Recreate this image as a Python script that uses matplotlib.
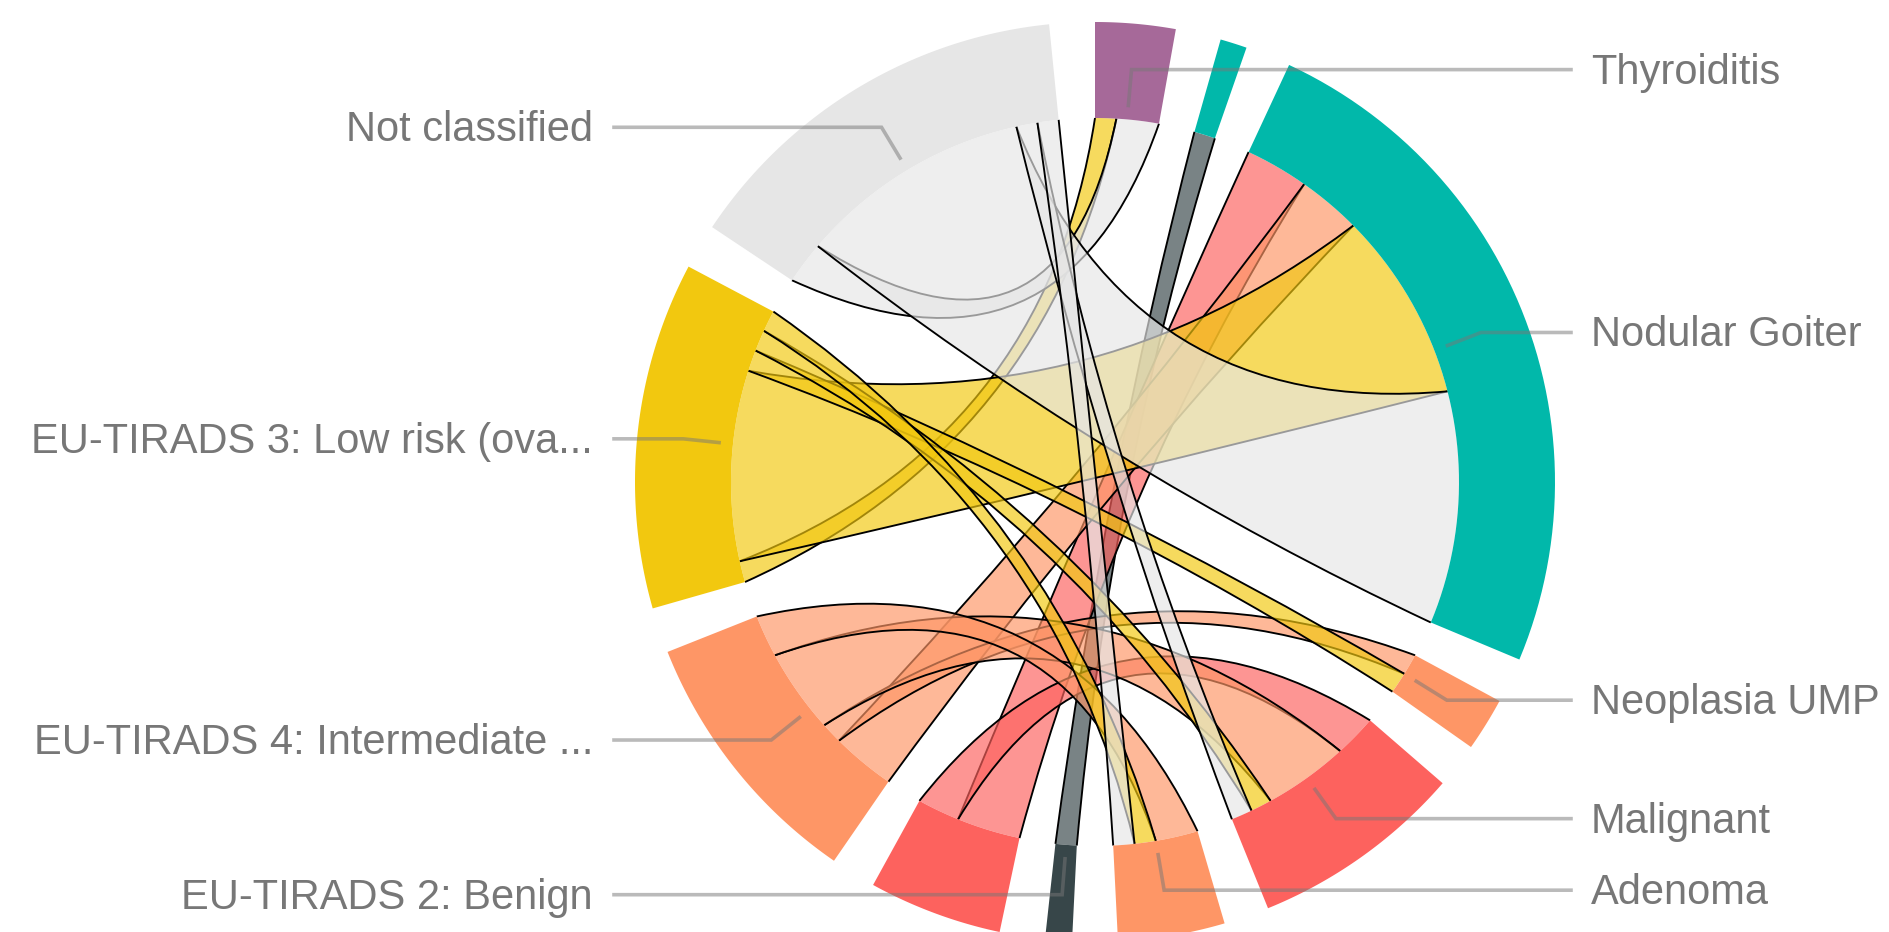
import numpy as np
import matplotlib
matplotlib.use("Agg")
import matplotlib.pyplot as plt
from matplotlib.path import Path
from matplotlib.patches import PathPatch, Polygon

# ---------------- data ----------------
# nodes, clockwise from 12 o'clock
nodes = ["Thyroiditis", "Other", "Nodular Goiter", "Neoplasia UMP", "Malignant", "Adenoma",
         "EU-TIRADS 2: Benign", "EU-TIRADS 5: High risk", "EU-TIRADS 4: Intermediate ...",
         "EU-TIRADS 3: Low risk (ova...", "Not classified"]
node_colors = ["#A66999", "#01B8AA", "#01B8AA", "#FE9666", "#FD625E", "#FE9666",
               "#374649", "#FD625E", "#FE9666", "#F2C80F", "#E6E6E6"]
show_label = [True, False, True, True, True, True, True, False, True, True, True]

flow_source = ["EU-TIRADS 2: Benign",
               "EU-TIRADS 5: High risk", "EU-TIRADS 5: High risk",
               "EU-TIRADS 4: Intermediate ...", "EU-TIRADS 4: Intermediate ...",
               "EU-TIRADS 4: Intermediate ...", "EU-TIRADS 4: Intermediate ...",
               "EU-TIRADS 3: Low risk (ova...", "EU-TIRADS 3: Low risk (ova...",
               "EU-TIRADS 3: Low risk (ova...", "EU-TIRADS 3: Low risk (ova...",
               "EU-TIRADS 3: Low risk (ova...",
               "Not classified", "Not classified", "Not classified", "Not classified"]
flow_target = ["Other",
               "Nodular Goiter", "Malignant",
               "Nodular Goiter", "Neoplasia UMP", "Malignant", "Adenoma",
               "Thyroiditis", "Nodular Goiter", "Neoplasia UMP", "Malignant", "Adenoma",
               "Thyroiditis", "Nodular Goiter", "Malignant", "Adenoma"]
flow_value = [1,
              3, 2,
              3, 1, 4, 2,
              1, 9, 1, 1, 1,
              2, 11, 1, 1]

# ---------------- layout (d3-style chord) ----------------
W, H = 1890, 932
CX, CY = 1095.0, 482.0
R_IN, R_OUT = 364.0, 460.0
PAD = 0.1      # radians between groups
PULL = 0.28    # ribbon control point: fraction from centre toward chord midpoint

n = len(nodes)
idx = {name: i for i, name in enumerate(nodes)}
M = np.zeros((n, n))
for s, t, v in zip(flow_source, flow_target, flow_value):
    M[idx[s], idx[t]] += v
    M[idx[t], idx[s]] += v

total = M.sum()
k = (2 * np.pi - PAD * n) / total
groups = []
sub = {}
x = 0.0
for i in range(n):
    x0 = x
    for j in range(n):
        if M[i, j] > 0:
            sub[(i, j)] = (x, x + M[i, j] * k)
            x += M[i, j] * k
    groups.append((x0, x))
    x += PAD


def pt(a, r):
    return (CX + r * np.sin(a), CY - r * np.cos(a))


def arc_pts(a0, a1, r, num=60):
    return [pt(a, r) for a in np.linspace(a0, a1, num)]


def ctrl(p0, p1):
    mx, my = (p0[0] + p1[0]) / 2, (p0[1] + p1[1]) / 2
    return (CX + PULL * (mx - CX), CY + PULL * (my - CY))


fig = plt.figure(figsize=(W / 100, H / 100), dpi=100)
ax = fig.add_axes([0, 0, 1, 1])
ax.set_xlim(0, W)
ax.set_ylim(H, 0)
ax.axis("off")

# ---------------- ribbons ----------------
for i in range(n):
    for j in range(i + 1, n):
        if M[i, j] <= 0:
            continue
        s0, s1 = sub[(i, j)]
        t0, t1 = sub[(j, i)]
        col = node_colors[j]
        ps0, ps1, pt0, pt1 = pt(s0, R_IN), pt(s1, R_IN), pt(t0, R_IN), pt(t1, R_IN)
        c1 = ctrl(ps1, pt0)
        c2 = ctrl(pt1, ps0)
        verts, codes = [], []
        a = arc_pts(s0, s1, R_IN)
        verts += a
        codes += [Path.MOVETO] + [Path.LINETO] * (len(a) - 1)
        verts += [c1, pt0]
        codes += [Path.CURVE3, Path.CURVE3]
        b = arc_pts(t0, t1, R_IN)
        verts += b[1:]
        codes += [Path.LINETO] * (len(b) - 1)
        verts += [c2, ps0]
        codes += [Path.CURVE3, Path.CURVE3]
        ax.add_patch(PathPatch(Path(verts, codes), facecolor=col, edgecolor="none",
                               alpha=0.67, zorder=2))
        for p0, c, p1 in ((ps1, c1, pt0), (pt1, c2, ps0)):
            ax.add_patch(PathPatch(Path([p0, c, p1],
                                        [Path.MOVETO, Path.CURVE3, Path.CURVE3]),
                                   facecolor="none", edgecolor="black", lw=1.35, zorder=2))

# ---------------- group arcs ----------------
for i, (g0, g1) in enumerate(groups):
    outer = arc_pts(g0, g1, R_OUT)
    inner = arc_pts(g1, g0, R_IN)
    ax.add_patch(Polygon(outer + inner, closed=True, facecolor=node_colors[i],
                         edgecolor="none", zorder=3))

# ---------------- labels ----------------
for i, (g0, g1) in enumerate(groups):
    if not show_label[i]:
        continue
    m = (g0 + g1) / 2
    p_end = pt(m, 378)
    knee = pt(m, 414)
    right = np.sin(m) > 0
    x_end = CX + 476 if right else CX - 481
    ax.plot([p_end[0], knee[0], x_end], [p_end[1], knee[1], knee[1]],
            color="#777777", alpha=0.5, lw=2.6, zorder=4, solid_joinstyle="miter")
    tx = x_end + 20 if right else x_end - 21
    ax.text(tx, knee[1] + 3, nodes[i], ha="left" if right else "right", va="center",
            fontsize=30, color="#777777", family=["Liberation Sans", "DejaVu Sans"],
            zorder=5)

fig.savefig("out.png", dpi=100)
